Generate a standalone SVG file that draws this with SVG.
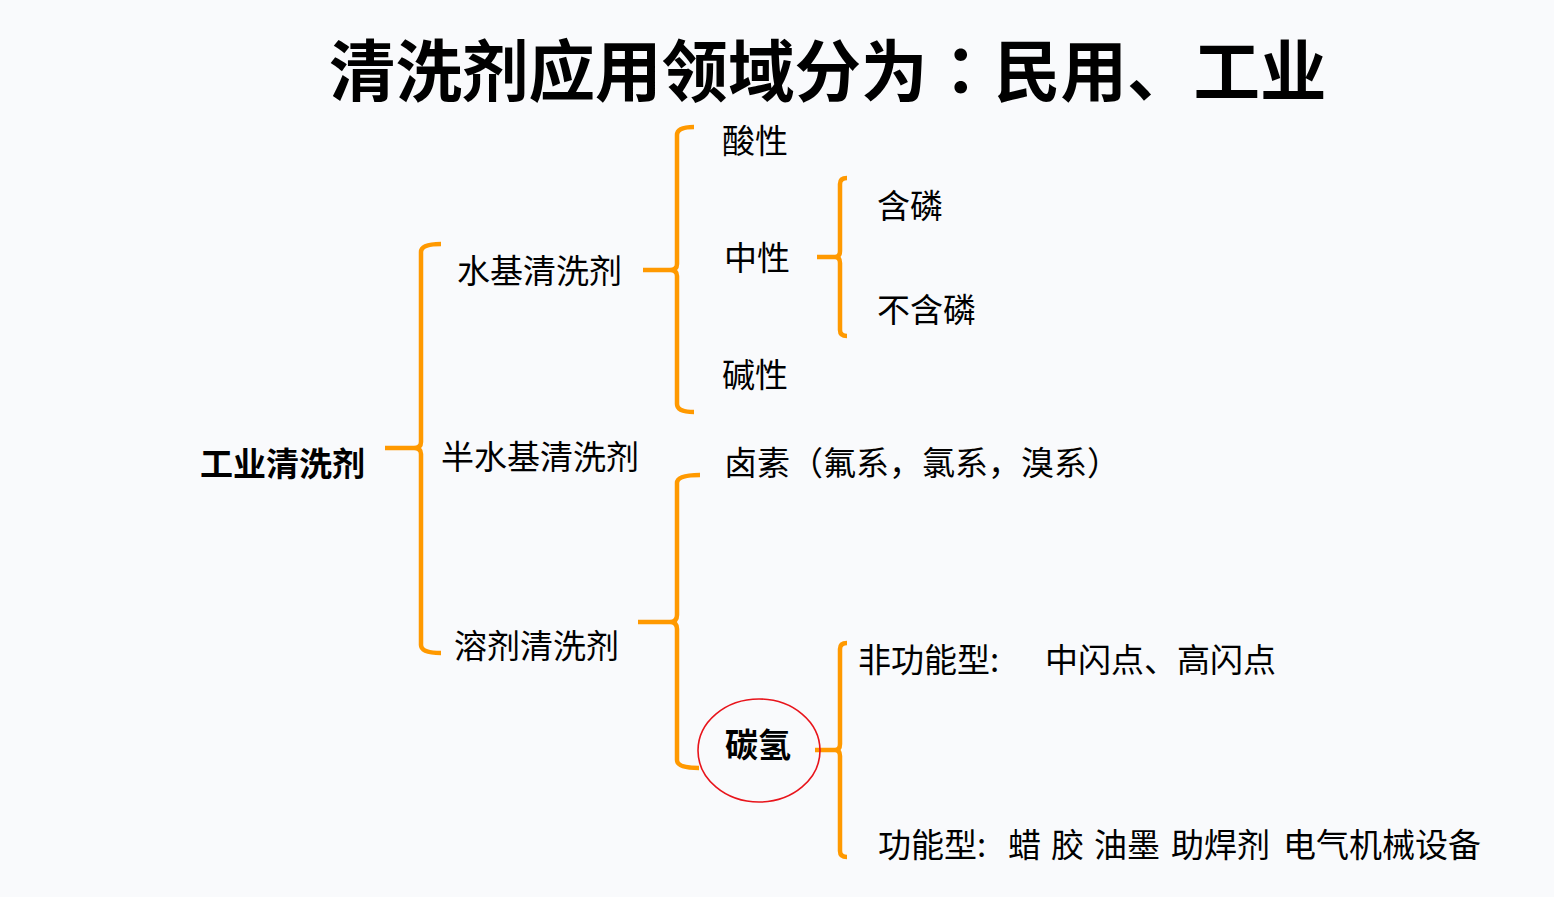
<svg xmlns="http://www.w3.org/2000/svg" width="1554" height="897" viewBox="0 0 1554 897">
<style>
.t{font-family:"Noto Sans CJK SC","Noto Sans",sans-serif;font-size:33px;fill:#000;}
.b{font-weight:bold;}
.title{font-family:"Noto Sans CJK SC","Noto Sans",sans-serif;font-size:66.5px;font-weight:bold;fill:#000;}
.p{font-family:"Noto Sans CJK TC","Noto Sans CJK SC",sans-serif;}
.br{fill:none;stroke:#FF9900;stroke-width:4.5;stroke-linejoin:round;}
</style>
<rect width="1554" height="897" fill="#F9FAFC"/>
<text class="title" x="329" y="96">清洗剂应用领域分为<tspan class="p">：</tspan>民用、工业</text>
<g id="connectors">
<path class="br" d="M441,244 Q421,244 421,252 L421,442 Q421,448 414,448 L385,448 M414,448 Q421,448 421,454 L421,645 Q421,653 441,653"/>
<path class="br" d="M694,127 Q677,127 677,135 L677,264 Q677,270 670,270 L643,270 M670,270 Q677,270 677,276 L677,404 Q677,412 694,412"/>
<path class="br" d="M847,178 Q840,178 840,184 L840,251 Q840,257 835,257 L817,257 M835,257 Q840,257 840,263 L840,330 Q840,336 847,336"/>
<path class="br" d="M700,475 Q677,475 677,483 L677,615 Q677,622 670,622 L638,622 M670,622 Q677,622 677,629 L677,760 Q677,768 699,768"/>
<path class="br" d="M847,643 Q840,643 840,649 L840,744 Q840,750 835,750 L815,750 M835,750 Q840,750 840,756 L840,851 Q840,857 847,857"/>
</g>
<g id="n-gongye"><text class="t b" x="200" y="476">工业清洗剂</text></g>
<g id="n-shuiji"><text class="t" x="457" y="283">水基清洗剂</text></g>
<g id="n-banshuiji"><text class="t" x="441" y="469">半水基清洗剂</text></g>
<g id="n-rongji"><text class="t" x="454" y="658">溶剂清洗剂</text></g>
<g id="n-suan"><text class="t" x="722" y="153">酸性</text></g>
<g id="n-zhong"><text class="t" x="724" y="270">中性</text></g>
<g id="n-jian"><text class="t" x="722" y="387">碱性</text></g>
<g id="n-hanlin"><text class="t" x="877" y="218">含磷</text></g>
<g id="n-buhanlin"><text class="t" x="877" y="322">不含磷</text></g>
<g id="n-lusu"><text class="t" x="724" y="475">卤素（氟系，氯系，溴系）</text></g>
<g id="n-tanqing"><ellipse cx="759" cy="750.5" rx="61" ry="51.5" fill="none" stroke="#E8141B" stroke-width="1.6"/><text class="t b" x="725" y="757">碳氢</text></g>
<g id="n-feigongneng"><text class="t" x="858" y="672"><tspan>非功能型:</tspan><tspan x="1045">中闪点、高闪点</tspan></text></g>
<g id="n-gongneng"><text class="t" x="878" y="857"><tspan>功能型:</tspan><tspan x="1008">蜡</tspan><tspan x="1051">胶</tspan><tspan x="1094">油墨</tspan><tspan x="1171">助焊剂</tspan><tspan x="1283">电气机械设备</tspan></text></g>
</svg>
